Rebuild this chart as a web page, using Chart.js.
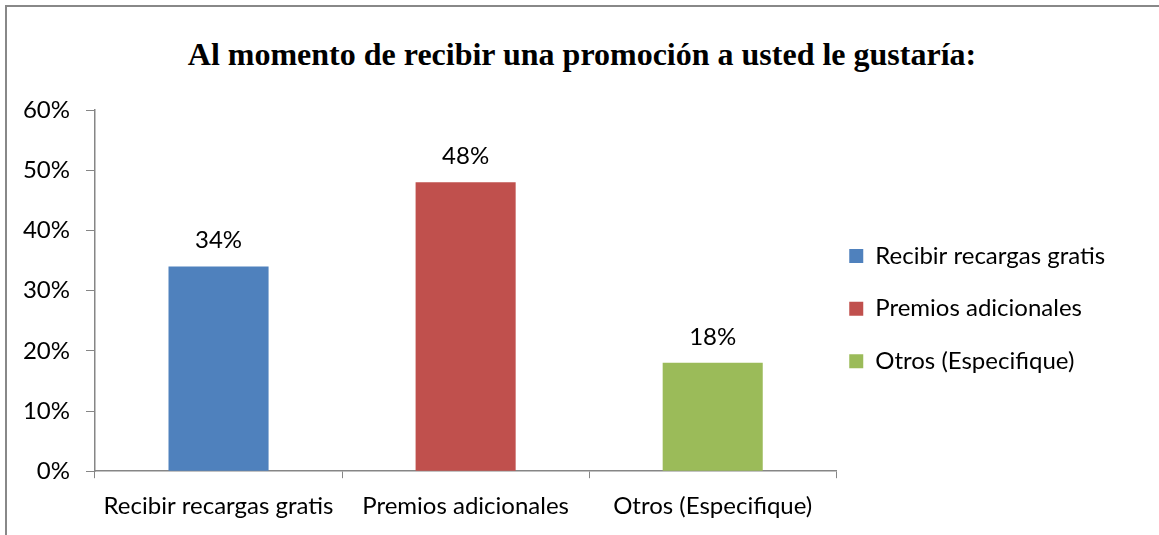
<!DOCTYPE html>
<html>
<head>
<meta charset="utf-8">
<script src="https://cdn.jsdelivr.net/npm/chart.js@4.4.1/dist/chart.umd.min.js"></script>
<style>
  html, body { margin: 0; padding: 0; background: #fff; }
  #wrap { position: relative; width: 1159px; height: 535px; overflow: hidden; }
  #frame { position: absolute; left: 5px; top: 5px; width: 1300px; height: 700px;
           border-left: 2px solid #888; border-top: 2px solid #888; }
  #title { position: absolute; left: 0; top: 35px; width: 1164px; text-align: center;
           font: bold 32px "Liberation Serif", "Times New Roman", serif; line-height: 38px; color: #000; }
  canvas { position: absolute; left: 0; top: 0; }
</style>
</head>
<body>
<div id="wrap">
  <div id="frame"></div>
  <div id="title">Al momento de recibir una promoción a usted le gustaría:</div>
  <canvas id="chart" width="1159" height="535"></canvas>
</div>
<script>
const categories = ['Recibir recargas gratis', 'Premios adicionales', 'Otros (Especifique)'];
const values = [34, 48, 18];
const barColors = ['#4F81BD', '#C0504D', '#9BBB59'];
const yTicks = [0, 10, 20, 30, 40, 50, 60];

const axisGray = '#868686';
const labelFont = { family: 'Lato, "Open Sans", sans-serif', size: 24 };

// value labels above each bar
const valueLabels = {
  id: 'valueLabels',
  afterDatasetsDraw(chart) {
    const { ctx } = chart;
    const meta = chart.getDatasetMeta(0);
    ctx.save();
    ctx.fillStyle = '#000';
    ctx.font = `${labelFont.size}px ${labelFont.family}`;
    ctx.textAlign = 'center';
    ctx.textBaseline = 'bottom';
    meta.data.forEach((bar, i) => {
      ctx.fillText(values[i] + '%', bar.x, bar.y - 14);
    });
    ctx.restore();
  }
};

new Chart(document.getElementById('chart'), {
  type: 'bar',
  data: {
    labels: categories,
    datasets: [{
      data: values,
      backgroundColor: barColors,
      categoryPercentage: 1,
      barPercentage: 0.405
    }]
  },
  options: {
    responsive: false,
    animation: false,
    layout: { padding: { left: 12, right: 48, bottom: 12, top: 110 } },
    plugins: {
      title: { display: false },
      legend: {
        position: 'right',
        labels: {
          color: '#000',
          // text given as a one-line array so the row height follows lineHeight
          font: { ...labelFont, lineHeight: 1.65 },
          boxWidth: 14,
          boxHeight: 14,
          padding: 13,
          generateLabels: () => categories.map((c, i) => ({
            text: [c],
            fillStyle: barColors[i],
            strokeStyle: barColors[i],
            fontColor: '#000',
            lineWidth: 0,
            index: i
          }))
        }
      },
      tooltip: { enabled: false }
    },
    scales: {
      x: {
        // labels may run into the bottom padding
        afterFit: (axis) => { axis.height -= 12; },
        grid: { display: true, drawOnChartArea: false, drawTicks: true, tickLength: 7, color: axisGray, offset: true },
        border: { display: true, color: axisGray, width: 1.5 },
        ticks: { color: '#000', font: labelFont, padding: 14, maxRotation: 0 }
      },
      y: {
        min: 0,
        max: 60,
        afterBuildTicks: (axis) => { axis.ticks = yTicks.map(v => ({ value: v })); },
        afterFit: (axis) => { axis.width = 83; },
        grid: { display: true, drawOnChartArea: false, drawTicks: true, tickLength: 9, color: axisGray },
        border: { display: true, color: axisGray, width: 1.5 },
        ticks: { color: '#000', font: labelFont, padding: 16, callback: v => v + '%' }
      }
    }
  },
  plugins: [valueLabels]
});
</script>
</body>
</html>
